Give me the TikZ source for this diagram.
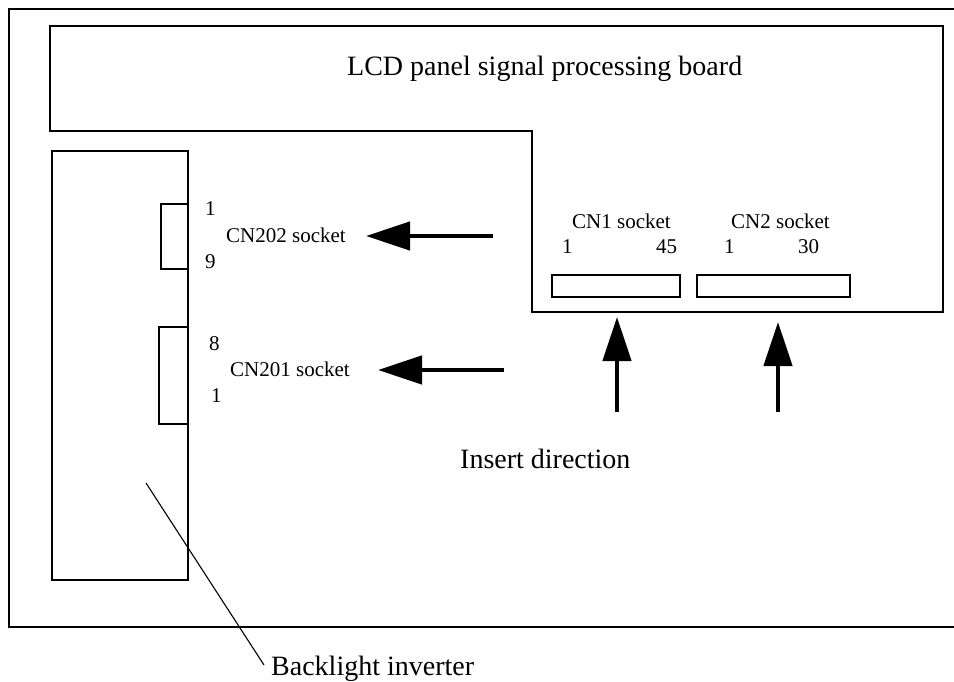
\documentclass[tikz,border=0pt]{standalone}
\usepackage{fontspec}
\setmainfont{Liberation Serif}
\usetikzlibrary{arrows.meta}
\begin{document}
\begin{tikzpicture}[x=1pt,y=-1pt,
  box/.style={draw=black,line width=1.5pt},
  bigarrow/.style={line width=4.5pt,-{Triangle[length=44pt,width=28pt]}},
  bigtext/.style={font=\fontsize{28}{32}\selectfont,inner sep=0pt,anchor=base west},
  smalltext/.style={font=\fontsize{21}{24}\selectfont,inner sep=0pt,anchor=base west},
  leader/.style={draw=black,line width=1.1pt}
]
\useasboundingbox (0,0) rectangle (954,682);
% outer frame
\draw[box] (954,9) -- (9,9) -- (9,627) -- (954,627);
% LCD board (L-shaped)
\draw[box] (50,26) -- (943,26) -- (943,312) -- (532,312) -- (532,131) -- (50,131) -- cycle;
\node[bigtext] (lcd) at (347,76) {LCD panel signal processing board};
% backlight inverter board
\draw[box] (52,151) rectangle (188,580);
% CN202 and CN201 connectors
\draw[box] (161,204) rectangle (188,269);
\draw[box] (159,327) rectangle (188,424);
\node[smalltext] (p1a) at (205,215) {1};
\node[smalltext] (p9) at (205,268) {9};
\node[smalltext] (cn202) at (226,243) {CN202 socket};
\node[smalltext] (p8) at (209,350) {8};
\node[smalltext] (p1b) at (211,402) {1};
\node[smalltext] (cn201) at (230,376) {CN201 socket};
% CN1 and CN2 connectors
\draw[box] (552,275) rectangle (680,297);
\draw[box] (697,275) rectangle (850,297);
\node[smalltext] (cn1) at (572,229) {CN1 socket};
\node[smalltext] (c1a) at (562,254) {1};
\node[smalltext] (c45) at (656,254) {45};
\node[smalltext] (cn2) at (731,229) {CN2 socket};
\node[smalltext] (c1b) at (724,253) {1};
\node[smalltext] (c30) at (798,253) {30};
% arrows
\coordinate (a1s) at (493,236); \coordinate (a1e) at (366,236);
\coordinate (a2s) at (504,370); \coordinate (a2e) at (378,370);
\coordinate (a3s) at (617,412); \coordinate (a3e) at (617,317);
\coordinate (a4s) at (778,412); \coordinate (a4e) at (778,322);
\draw[bigarrow] (a1s) -- (a1e);
\draw[bigarrow] (a2s) -- (a2e);
\draw[bigarrow] (a3s) -- (a3e);
\draw[bigarrow] (a4s) -- (a4e);
\node[bigtext] (ins) at (460,468) {Insert direction};
% backlight inverter label
\node[bigtext] (bl) at (271,675) {Backlight inverter};
\coordinate (blp) at (146,483);
\draw[leader] (blp) -- (264,665);
\end{tikzpicture}
\end{document}
